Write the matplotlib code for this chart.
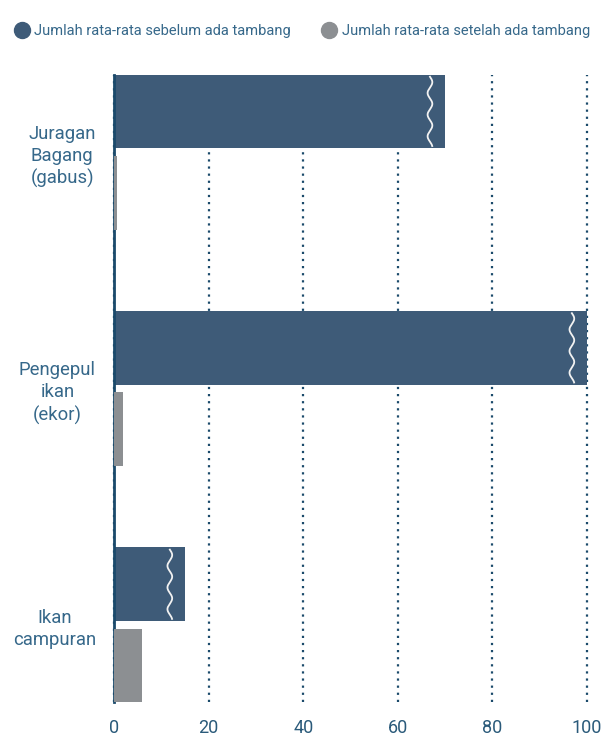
import numpy as np
import matplotlib
matplotlib.use("Agg")
import matplotlib.pyplot as plt
from matplotlib.lines import Line2D

categories = ["Juragan\nBagang\n(gabus)", "Pengepul\nikan\n(ekor)", "Ikan\ncampuran"]
before = [70, 100, 15]
after = [0.6, 2, 6]
legend_labels = ["Jumlah rata-rata sebelum ada tambang",
                 "Jumlah rata-rata setelah ada tambang"]
xticks = [0, 20, 40, 60, 80, 100]

DARK = "#3e5b78"
GREY = "#8c8f92"
AXIS = "#1b4a6b"
TEXT = "#36688a"
TICK = "#2a5a7a"

plt.rcParams["font.family"] = ["Roboto", "DejaVu Sans"]

fig = plt.figure(figsize=(6.09, 7.36), dpi=100)
ax = fig.add_axes([114 / 609, 1 - 702 / 736, (587 - 114) / 609, (702 - 75) / 736])

y = np.arange(len(categories))
h = 0.313
off = 0.172
ax.barh(y - off, before, height=h, color=DARK, zorder=4)
ax.barh(y + off, after, height=h, color=GREY, zorder=7)

# white wavy "break" marks near the end of the dark bars
t = np.linspace(0, 1, 200)
for yi, v in zip(y, before):
    ys = (yi - off - h / 2 + 0.01) + t * (h - 0.02)
    xs = v - 3.2 + 0.5 * np.sin(t * 2 * np.pi * 3.2)
    ax.plot(xs, ys, color="#f2f2f2", lw=1.3, zorder=7)

ax.set_xlim(0, 100)
ax.set_ylim(2.326, -0.326)
ax.set_xticks(xticks)
ax.set_xticklabels([str(v) for v in xticks], fontsize=13, color=TICK)
ax.tick_params(axis="x", length=0, pad=12)
ax.set_yticks(y)
ax.set_yticklabels(categories, fontsize=13.3, color=TEXT, ha="right")
ax.tick_params(axis="y", length=0, pad=13)
for lab in ax.get_yticklabels():
    lab.set_multialignment("center")
    lab.set_linespacing(1.3)

for s in ["top", "right", "bottom"]:
    ax.spines[s].set_visible(False)
ax.spines["left"].set_color(AXIS)
ax.spines["left"].set_linewidth(2)
ax.spines["left"].set_zorder(6)

ax.grid(axis="x", color=AXIS, linestyle=(0, (1, 2.2)), linewidth=1.6, zorder=1)
ax.grid(axis="y", visible=False)
for gl in ax.get_xgridlines():
    gl.set_clip_on(False)

handles = [Line2D([], [], marker="o", ls="none", color=DARK, markersize=11.5),
           Line2D([], [], marker="o", ls="none", color=GREY, markersize=11.5)]
fig.legend(handles, legend_labels, loc="upper left", bbox_to_anchor=(0.0, 0.985),
           ncol=2, frameon=False, labelcolor=TEXT, prop={"size": 10.55},
           handletextpad=0.25, columnspacing=2.0, handlelength=1.2)

fig.savefig("out.png", dpi=100)
